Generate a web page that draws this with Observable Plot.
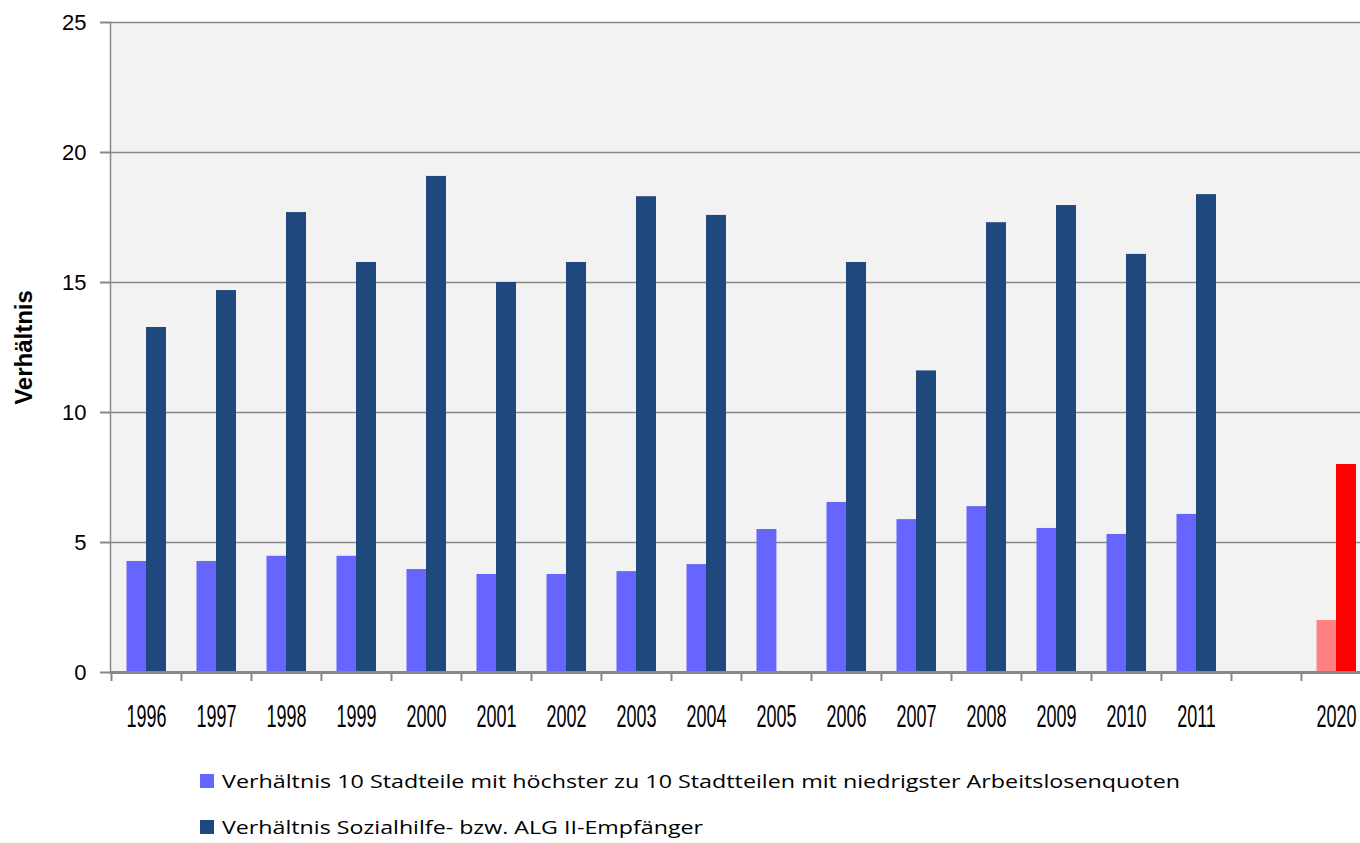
<!DOCTYPE html>
<html><head><meta charset="utf-8">
<script src="https://cdn.jsdelivr.net/npm/d3@7"></script>
<script src="https://cdn.jsdelivr.net/npm/@observablehq/plot@0.6"></script>
<style>
html,body{margin:0;padding:0;background:#fff;overflow:hidden;}
#chart{position:relative;width:1360px;height:843px;}
#legend{position:absolute;left:0;top:740px;}
</style></head><body><div id="chart"></div>
<script>
const years = ["1996","1997","1998","1999","2000","2001","2002","2003","2004","2005","2006","2007","2008","2009","2010","2011"," ","2020"];
const ratioUnemployment = [4.27,4.27,4.47,4.47,3.96,3.77,3.77,3.88,4.15,5.5,6.54,5.88,6.38,5.54,5.31,6.08,null,2.0];
const ratioWelfare = [13.27,14.69,17.69,15.77,19.08,15.0,15.77,18.3,17.58,null,15.77,11.6,17.3,17.96,16.08,18.38,null,8.0];
const seriesNames = [
  "Verhältnis 10 Stadteile mit höchster zu 10 Stadtteilen mit niedrigster Arbeitslosenquoten",
  "Verhältnis Sozialhilfe- bzw. ALG II-Empfänger"
];
const yTicks = [0,5,10,15,20,25];
const yTitle = "Verhältnis";

const light = years.map((year,i)=>({year, value: ratioUnemployment[i]})).filter(d=>d.value!=null);
const dark = years.map((year,i)=>({year, value: ratioWelfare[i]})).filter(d=>d.value!=null);

const plot = Plot.plot({
  width:1360, height:740, marginLeft:110, marginRight:0, marginTop:22, marginBottom:68,
  style:{background:"transparent", overflow:"visible"},
  x:{type:"band", domain: years, range:[110,1372], padding:0, axis:null},
  y:{domain:[0,25], axis:null},
  marks:[
    Plot.frame({fill:"#f2f2f2"}),
    Plot.ruleY(yTicks.slice(1), {stroke:"#888", strokeWidth:1.5}),
    Plot.barY(light, {x:"year", y:"value", fill: d=>d.year==="2020" ? "#ff8080" : "#6666ff", insetLeft:15.5, insetRight:34.6}),
    Plot.barY(dark, {x:"year", y:"value", fill: d=>d.year==="2020" ? "#ff0000" : "#1f497d", insetLeft:35, insetRight:15}),
    Plot.ruleX(years, {x: d=>d, dx:-35.05, insetTop:650, insetBottom:-9, stroke:"#888", strokeWidth:2}),
    Plot.ruleY(yTicks, {y: d=>d, insetLeft:-10, insetRight:1250, stroke:"#888", strokeWidth:2}),
    Plot.frame({anchor:"left", stroke:"#888", strokeWidth:1.5}),
    Plot.ruleY([0], {stroke:"#888", strokeWidth:3}),
    Plot.axisY({ticks:yTicks, tickSize:0, tickPadding:24, fontSize:22, fontFamily:"Liberation Sans", label:null}),
    Plot.axisX({tickSize:0, tickPadding:32, fontSize:20, fontFamily:"Liberation Sans", label:null}),
    Plot.text([yTitle], {frameAnchor:"left", textAnchor:"middle", dx:-86, rotate:-90, fontWeight:"bold", fontSize:24, fontFamily:"Liberation Sans", fill:"black"})
  ]
});
document.getElementById("chart").appendChild(plot);

// stretch x tick labels vertically (narrow, tall digits like the original)
plot.querySelectorAll('g[aria-label="x-axis tick label"] text').forEach(t=>{
  const tr = t.getAttribute("transform");
  if (tr) t.setAttribute("transform", tr + " scale(0.9,1.55)");
  else {
    const x = +t.getAttribute("x") || 0, y = +t.getAttribute("y") || 0;
    t.removeAttribute("x"); t.removeAttribute("y");
    t.setAttribute("transform", `translate(${x},${y}) scale(0.9,1.55)`);
  }
});

// legend
const legendColors = ["#6666ff","#1f497d"];
const legendLengths = [958, 481];
const lg = d3.select("#chart").append("svg").attr("id","legend").attr("width",1360).attr("height",103);
seriesNames.forEach((name,i)=>{
  lg.append("rect").attr("x",200).attr("y",34+i*46).attr("width",14).attr("height",14).attr("fill",legendColors[i]);
  lg.append("text").attr("x",222).attr("y",48+i*46)
    .attr("font-family","Open Sans").attr("font-size",19).attr("fill","black")
    .attr("textLength",legendLengths[i]).attr("lengthAdjust","spacingAndGlyphs").text(name);
});
</script>
</body></html>
